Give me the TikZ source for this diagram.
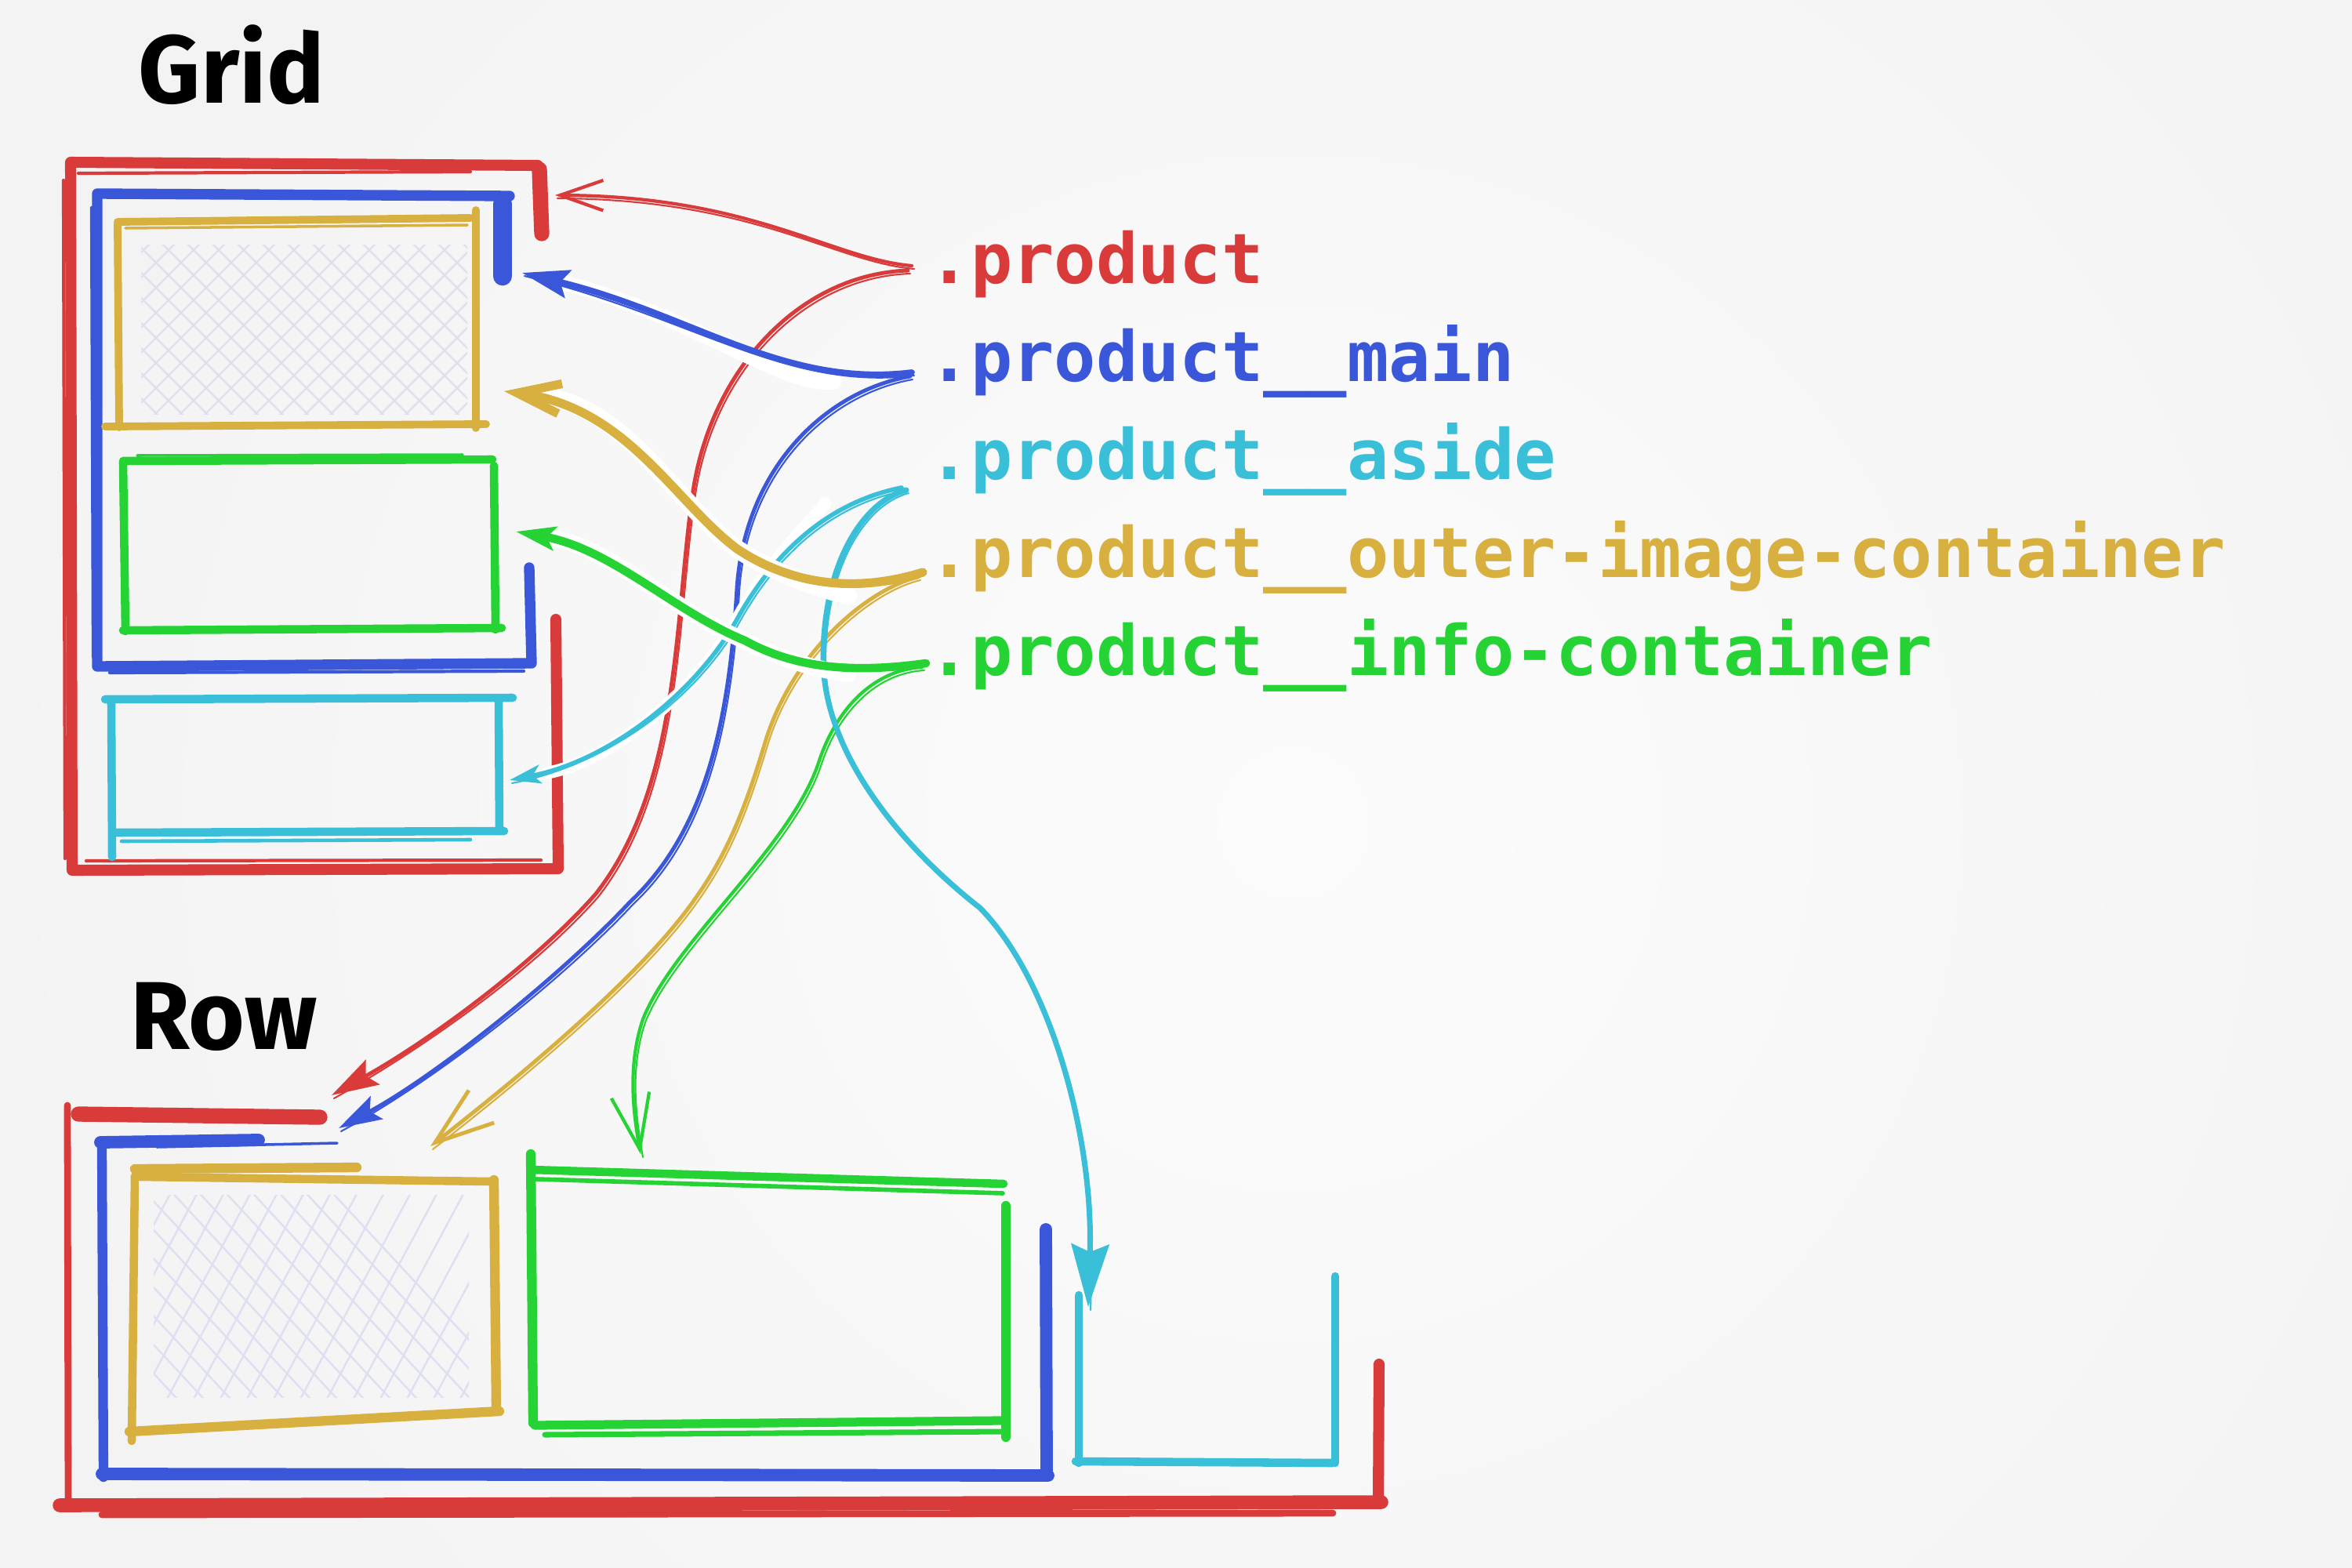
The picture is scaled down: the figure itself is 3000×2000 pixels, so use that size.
\documentclass[tikz,border=0pt]{standalone}
\usepackage{fontspec}
\setmonofont{DejaVu Sans Mono}
\newfontfamily\handfont{Fira Sans}
\usetikzlibrary{arrows.meta,calc}
\definecolor{bgc}{RGB}{243,243,243}
\definecolor{glowc}{RGB}{252,252,252}
\definecolor{cred}{RGB}{217,59,59}
\definecolor{cblue}{RGB}{59,87,217}
\definecolor{ccyan}{RGB}{58,191,216}
\definecolor{cgold}{RGB}{216,176,64}
\definecolor{cgreen}{RGB}{37,211,53}
\definecolor{hatchc}{RGB}{222,224,242}
\tikzset{
  lbl/.style={anchor=base west, inner sep=0pt, font=\fontsize{25.2pt}{30pt}\selectfont\ttfamily\bfseries},
  hand/.style={anchor=base west, inner sep=0pt, text=black, font=\fontsize{35pt}{42pt}\selectfont\handfont\bfseries},
  hatchl/.style={draw=hatchc, line width=0.7pt},
  halo/.style={draw=white, line width=#1, shorten <=1cm, shorten >=0.5cm},
  halo/.default=5pt,
  thinline/.style={line width=0.6pt, transform canvas={shift={(3,4)}}},
  stl/.style={-{Stealth[length=#1, width=0.6*#1, inset=0.1cm]}},
  brb/.style={-{Straight Barb[length=#1, width=0.7*#1]}}
}
\newcommand\pthRG{(sPa) .. controls (1060,330) and (960,250) .. (gP)}
\newcommand\pthBG{(sMa) .. controls (1000,495) and (880,400) .. (gM)}
\newcommand\pthOG{(sOa) .. controls (1080,760) and (1000,740) .. (940,700) .. controls (860,640) and (800,520) .. (gO)}
\newcommand\pthIG{(sIa) .. controls (1080,860) and (1010,850) .. (950,817) .. controls (860,780) and (780,700) .. (gI)}
\newcommand\pthAG{(sAa) .. controls (1060,640) and (990,700) .. (940,790) .. controls (890,880) and (780,970) .. (gA)}
\newcommand\pthRR{(sPb) .. controls (1020,350) and (910,470) .. (885,620) .. controls (860,780) and (870,1000) .. (760,1140) .. controls (690,1220) and (560,1320) .. (rP)}
\newcommand\pthBR{(sMb) .. controls (1050,500) and (950,600) .. (940,750) .. controls (930,920) and (900,1060) .. (804,1150) .. controls (720,1240) and (560,1370) .. (rM)}
\newcommand\pthOR{(sOb) .. controls (1110,750) and (1010,830) .. (975,950) .. controls (945,1050) and (920,1100) .. (884,1150) .. controls (820,1240) and (680,1360) .. (rO)}
\newcommand\pthIR{(sIb) .. controls (1110,855) and (1065,910) .. (1045,970) .. controls (1010,1080) and (860,1200) .. (820,1300) .. controls (800,1360) and (808,1420) .. (rI)}
\newcommand\pthAR{(sAb) .. controls (1100,640) and (1050,720) .. (1050,840) .. controls (1050,960) and (1150,1080) .. (1250,1158) .. controls (1340,1250) and (1395,1450) .. (rA)}
\begin{document}
\begin{tikzpicture}[x=0.01cm,y=-0.01cm,line cap=round,line join=round]
\useasboundingbox (0,0) rectangle (3000,2000);
\fill[bgc] (0,0) rectangle (3000,2000);
\begin{scope}
\clip (0,0) rectangle (3000,2000);
\shade[inner color=glowc, outer color=bgc] (1650,1050) circle (1700);
\end{scope}

% ---------- titles ----------
\node[hand] (tg) at (176,132) {Grid};
\node[hand] (tr) at (166,1338) {Row};

% ---------- labels ----------
\node[lbl, text=cred]   (lp) at (1184,361) {.product};
\node[lbl, text=cblue]  (lm) at (1184,486) {.product\_\_main};
\node[lbl, text=ccyan]  (la) at (1184,611) {.product\_\_aside};
\node[lbl, text=cgold]  (lo) at (1184,736) {.product\_\_outer-image-container};
\node[lbl, text=cgreen] (li) at (1184,861) {.product\_\_info-container};

% ---------- hatching ----------
\begin{scope}
\clip (180,312) rectangle (596,528);
\foreach \i in {-60,-28,...,600} {
  \draw[hatchl] (\i,530) -- ++(230,-230);
  \draw[hatchl] (\i,300) -- ++(230,230);
}
\end{scope}
\begin{scope}
\clip (196,1524) rectangle (598,1782);
\foreach \i in {40,74,...,640} {
  \draw[hatchl] (\i,1790) -- ++(150,-280);
  \draw[hatchl] (\i-200,1515) -- ++(260,280);
}
\end{scope}

% ---------- Grid boxes ----------
% product (red)
\draw[cred, line width=4pt] (690,300) -- (686,211) -- (90,207) -- (92,1110) -- (712,1108) -- (709,790);
\draw[cred, line width=5.5pt] (688,216) -- (691,298);
\draw[cred, line width=1.2pt] (100,221) -- (600,219);
\draw[cred, line width=1.2pt] (81,230) -- (83,1095);
\draw[cred, line width=1.2pt] (110,1098) -- (690,1097);
% main (blue)
\draw[cblue, line width=3.8pt] (650,250) -- (124,247) -- (124,850) -- (678,846) -- (675,724);
\draw[cblue, line width=7pt] (641,260) -- (641,352);
\draw[cblue, line width=1.2pt] (117,265) -- (119,838);
\draw[cblue, line width=1.2pt] (140,858) -- (668,856);
% outer image container (gold)
\draw[cgold, line width=2.8pt] (150,283) -- (600,278);
\draw[cgold, line width=2.8pt] (607,268) -- (607,546);
\draw[cgold, line width=2.8pt] (134,544) -- (620,541);
\draw[cgold, line width=2.8pt] (150,285) -- (152,545);
\draw[cgold, line width=1pt] (160,291) -- (596,287);
% info container (green)
\draw[cgreen, line width=3pt] (157,588) -- (628,586);
\draw[cgreen, line width=1pt] (175,581) -- (590,580);
\draw[cgreen, line width=3pt] (630,594) -- (632,803);
\draw[cgreen, line width=3pt] (157,804) -- (640,801);
\draw[cgreen, line width=3pt] (157,590) -- (160,805);
% aside (cyan)
\draw[ccyan, line width=3pt] (134,892) -- (654,890);
\draw[ccyan, line width=3pt] (142,895) -- (143,1093);
\draw[ccyan, line width=3pt] (636,893) -- (637,1060);
\draw[ccyan, line width=3pt] (149,1062) -- (643,1060);
\draw[ccyan, line width=1.3pt] (155,1073) -- (600,1071);

% ---------- Row boxes ----------
% product (red)
\draw[cred, line width=5.5pt] (100,1421) -- (408,1425);
\draw[cred, line width=2.5pt] (86,1410) -- (87,1918);
\draw[cred, line width=5pt] (76,1920) -- (1762,1916);
\draw[cred, line width=2.5pt] (130,1932) -- (1700,1930);
\draw[cred, line width=4pt] (1759,1740) -- (1758,1916);
% main (blue)
\draw[cblue, line width=4.5pt] (128,1457) -- (330,1454);
\draw[cblue, line width=1pt] (200,1463) -- (430,1458);
\draw[cblue, line width=3.5pt] (130,1460) -- (132,1884);
\draw[cblue, line width=4.5pt] (130,1880) -- (1337,1882);
\draw[cblue, line width=4.5pt] (1334,1568) -- (1335,1882);
% outer image container (gold)
\draw[cgold, line width=3.5pt] (172,1491) -- (455,1489);
\draw[cgold, line width=3pt] (178,1501) -- (626,1507);
\draw[cgold, line width=3pt] (172,1500) -- (168,1838);
\draw[cgold, line width=3.5pt] (630,1505) -- (633,1800);
\draw[cgold, line width=3.5pt] (165,1826) -- (637,1800);
% info container (green)
\draw[cgreen, line width=3pt] (677,1492) -- (1280,1510);
\draw[cgreen, line width=1.6pt] (684,1504) -- (1279,1522);
\draw[cgreen, line width=3.5pt] (677,1472) -- (680,1815);
\draw[cgreen, line width=3.5pt] (1283,1538) -- (1283,1833);
\draw[cgreen, line width=3.2pt] (682,1818) -- (1276,1812);
\draw[cgreen, line width=2pt] (695,1830) -- (1280,1826);
% aside (cyan)
\draw[ccyan, line width=3pt] (1376,1652) -- (1376,1866);
\draw[ccyan, line width=3pt] (1372,1864) -- (1700,1866);
\draw[ccyan, line width=3pt] (1703,1628) -- (1703,1866);

% ---------- connector end points ----------
\coordinate (sPa) at ($(lp.base west)+(-21,-22)$);
\coordinate (sPb) at ($(lp.base west)+(-26,-16)$);
\coordinate (sMa) at ($(lm.base west)+(-21,-11)$);
\coordinate (sMb) at ($(lm.base west)+(-23,-6)$);
\coordinate (sAa) at ($(la.base west)+(-34,11)$);
\coordinate (sAb) at ($(la.base west)+(-28,14)$);
\coordinate (sOa) at ($(lo.base west)+(-7,-6)$);
\coordinate (sOb) at ($(lo.base west)+(-13,0)$);
\coordinate (sIa) at ($(li.base west)+(-3,-15)$);
\coordinate (sIb) at ($(li.base west)+(-8,-10)$);
\coordinate (gP) at (708,249);
\coordinate (gM) at (666,348);
\coordinate (gO) at (643,499);
\coordinate (gI) at (658,678);
\coordinate (gA) at (650,995);
\coordinate (rP) at (423,1397);
\coordinate (rM) at (432,1439);
\coordinate (rO) at (549,1462);
\coordinate (rI) at (817,1472);
\coordinate (rA) at (1388,1667);

% ---------- connectors to Row ----------
\draw[cred, line width=1.4pt, stl=0.6cm] \pthRR;
\draw[cred, thinline] \pthRR;
\draw[cblue, line width=1.4pt, stl=0.55cm] \pthBR;
\draw[cblue, thinline] \pthBR;
\draw[cgold, line width=1.4pt, brb=0.75cm] \pthOR;
\draw[cgold, thinline] \pthOR;
\draw[cgreen, line width=1.2pt, brb=0.7cm] \pthIR;
\draw[cgreen, thinline] \pthIR;
\draw[ccyan, line width=2pt, stl=0.8cm] \pthAR;
\draw[ccyan, thinline] \pthAR;

% ---------- connectors to Grid ----------
\draw[halo=4.5pt] \pthAG;
\draw[ccyan, line width=1.6pt, stl=0.4cm] \pthAG;
\draw[ccyan, thinline] \pthAG;
\draw[cred, line width=1.2pt, brb=0.55cm] \pthRG;
\draw[cred, thinline] \pthRG;
\draw[halo=5.5pt] \pthBG;
\draw[cblue, line width=2.2pt, stl=0.6cm] \pthBG;
\draw[cblue, thinline] \pthBG;
\draw[halo=6.5pt] \pthOG;
\draw[cgold, line width=3.2pt, brb=0.55cm] \pthOG;
\draw[halo=6pt] \pthIG;
\draw[cgreen, line width=3pt, stl=0.5cm] \pthIG;
\end{tikzpicture}
\end{document}
